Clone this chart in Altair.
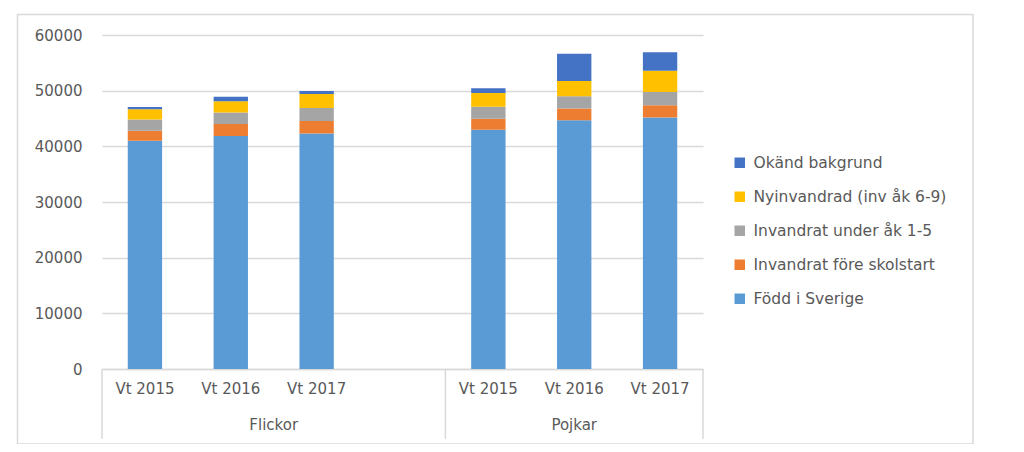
import altair as alt
import pandas as pd

groups = ["Flickor", "Flickor", "Flickor", "Pojkar", "Pojkar", "Pojkar"]
years = ["Vt 2015", "Vt 2016", "Vt 2017", "Vt 2015", "Vt 2016", "Vt 2017"]
series = ["Okänd bakgrund", "Nyinvandrad (inv åk 6-9)", "Invandrat under åk 1-5",
          "Invandrat före skolstart", "Född i Sverige"]
colors = ["#4472C4", "#FFC000", "#A5A5A5", "#ED7D31", "#5B9BD5"]
fodd = [41000, 41850, 42300, 43000, 44700, 45200]
fore = [1800, 2150, 2250, 1950, 2100, 2200]
under = [2000, 2100, 2350, 2150, 2200, 2350]
nyinv = [1850, 2000, 2500, 2500, 2750, 3850]
okand = [400, 800, 550, 850, 4900, 3300]

slots = ["Flickor|Vt 2015", "Flickor|Vt 2016", "Flickor|Vt 2017", "Flickor|",
         "Pojkar|Vt 2015", "Pojkar|Vt 2016", "Pojkar|Vt 2017"]
group_names = ["Flickor", "Pojkar"]
group_centers = [2, 5.5]
separators = [0, 4, 7]

vals = {
    "Född i Sverige": fodd,
    "Invandrat före skolstart": fore,
    "Invandrat under åk 1-5": under,
    "Nyinvandrad (inv åk 6-9)": nyinv,
    "Okänd bakgrund": okand,
}
rows = []
for s, arr in vals.items():
    for g, yr, v in zip(groups, years, arr):
        rows.append({"slot": f"{g}|{yr}", "serie": s, "value": v,
                     "ord": list(vals.keys()).index(s)})
df = pd.DataFrame(rows)

FONT = "DejaVu Sans"
TXT = "#595959"
GRID = "#D9D9D9"
W, H = 601, 334

bars = alt.Chart(df).mark_bar().encode(
    x=alt.X("slot:N", scale=alt.Scale(domain=slots, paddingInner=0.6, paddingOuter=0.3),
            axis=alt.Axis(title=None, labelExpr="split(datum.value, '|')[1]", labelAngle=0,
                          ticks=False, domainColor=GRID, domainWidth=1.5, labelPadding=12,
                          labelFontSize=15, labelColor=TXT, labelFont=FONT)),
    y=alt.Y("value:Q", stack="zero",
            scale=alt.Scale(domain=[0, 60000], nice=False),
            axis=alt.Axis(title=None, values=[0, 10000, 20000, 30000, 40000, 50000, 60000],
                          format="d", ticks=False, domain=False, gridColor=GRID, gridWidth=1.5,
                          labelPadding=20, labelFontSize=15, labelColor=TXT, labelFont=FONT)),
    color=alt.Color("serie:N", scale=alt.Scale(domain=series, range=colors),
                    legend=alt.Legend(title=None, orient="none", legendX=630, legendY=120,
                                      symbolType="square", symbolSize=110, symbolStrokeWidth=0,
                                      labelFontSize=15.5, labelColor=TXT, labelFont=FONT,
                                      labelLimit=0, rowPadding=17, labelOffset=6)),
    order=alt.Order("ord:Q", sort="ascending"),
)

sep_df = pd.DataFrame({"x": separators})
seps = alt.Chart(sep_df).mark_rule(color=GRID, strokeWidth=1.5).encode(
    x=alt.X("x:Q", scale=alt.Scale(domain=[0, 7], nice=False, zero=False), axis=None),
    y=alt.value(H), y2=alt.value(H + 70),
)

grp_df = pd.DataFrame({"g": group_names, "x": group_centers})
grp = alt.Chart(grp_df).mark_text(font=FONT, fontSize=15, color=TXT, baseline="middle").encode(
    x=alt.X("x:Q", scale=alt.Scale(domain=[0, 7], nice=False, zero=False), axis=None),
    y=alt.value(H + 56),
    text="g:N",
)

border = alt.Chart(pd.DataFrame({"a": [1]})).mark_rect(
    fill=None, stroke=GRID, strokeWidth=1.5).encode(
    x=alt.value(-84.5), x2=alt.value(871), y=alt.value(-20.5), y2=alt.value(409),
)

chart = alt.layer(border, bars, seps, grp).resolve_scale(x="independent").properties(
    width=W, height=H,
    autosize=alt.AutoSizeParams(type="none"),
    padding={"left": 94, "top": 27, "right": 313, "bottom": 75},
).configure_view(stroke=None)

chart.save("out.html", embed_options={"renderer": "svg", "actions": False})
